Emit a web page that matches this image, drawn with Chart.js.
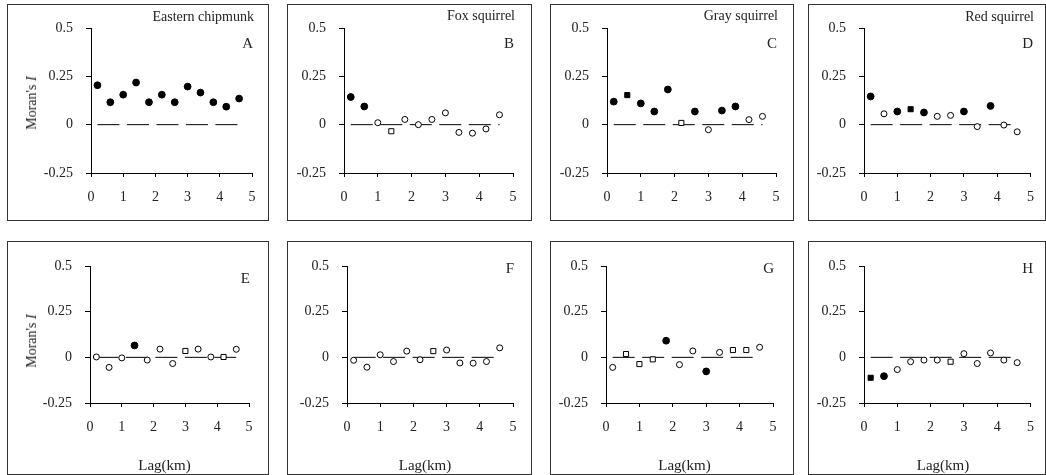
<!DOCTYPE html>
<html>
<head>
<meta charset="utf-8">
<script src="https://cdn.jsdelivr.net/npm/chart.js@4.4.0/dist/chart.umd.min.js"></script>
<style>
  body { margin:0; width:1046px; height:475px; background:#fff; position:relative; overflow:hidden;
         font-family:"Liberation Serif", "Times New Roman", serif; color:#222; }
  .box { position:absolute; border:1px solid #333; box-sizing:border-box; }
  canvas { position:absolute; }
  .lbl { position:absolute; font-size:14px; line-height:14px; white-space:nowrap; transform:translateY(-50%); }
  .mid { position:absolute; font-size:15px; line-height:15px; white-space:nowrap; transform:translate(-50%,-50%); }
  .rot { position:absolute; font-size:14px; line-height:14px; white-space:nowrap; transform:translate(-50%,-50%) rotate(-90deg); }
</style>
</head>
<body>
<script>
// lag distance classes (km)
const lags = [0.2, 0.6, 1.0, 1.4, 1.8, 2.2, 2.6, 3.0, 3.4, 3.8, 4.2, 4.6];
const xTicks = [0, 1, 2, 3, 4, 5];
const yTicks = [-0.25, 0, 0.25, 0.5];
const species = ["Eastern chipmunk", "Fox squirrel", "Gray squirrel", "Red squirrel"];

// Moran's I per lag; marks: F filled circle, O open circle, Q filled square, S open square
const moranA = [0.204, 0.116, 0.155, 0.218, 0.116, 0.155, 0.116, 0.197, 0.166, 0.116, 0.093, 0.135];
const markA  = ["F","F","F","F","F","F","F","F","F","F","F","F"];
const moranB = [0.143, 0.094, 0.010, -0.034, 0.027, 0.000, 0.027, 0.061, -0.040, -0.044, -0.022, 0.051];
const markB  = ["F","F","O","S","O","O","O","O","O","O","O","O"];
const moranC = [0.119, 0.153, 0.110, 0.068, 0.182, 0.009, 0.068, -0.026, 0.073, 0.094, 0.026, 0.043];
const markC  = ["F","Q","F","F","F","S","F","O","F","F","O","O"];
const moranD = [0.146, 0.056, 0.068, 0.080, 0.063, 0.043, 0.048, 0.068, -0.010, 0.097, -0.002, -0.037];
const markD  = ["F","O","F","Q","F","O","O","F","O","F","O","O"];
const moranE = [0.002, -0.055, -0.003, 0.065, -0.015, 0.045, -0.034, 0.035, 0.045, 0.002, 0.002, 0.044];
const markE  = ["O","O","O","F","O","O","O","S","O","O","S","O"];
const moranF = [-0.016, -0.054, 0.014, -0.023, 0.034, -0.013, 0.034, 0.040, -0.031, -0.032, -0.023, 0.052];
const markF  = ["O","O","O","O","O","O","S","O","O","O","O","O"];
const moranG = [-0.055, 0.018, -0.037, -0.011, 0.091, -0.040, 0.035, -0.077, 0.027, 0.040, 0.040, 0.055];
const markG  = ["O","S","S","S","F","O","O","F","O","S","S","O"];
const moranH = [-0.112, -0.103, -0.067, -0.024, -0.015, -0.015, -0.024, 0.020, -0.034, 0.024, -0.015, -0.029];
const markH  = ["Q","F","O","O","O","O","S","O","O","O","O","O"];

// layout: box = [left, top, w, h], plot = [left, top, right, bottom]
const panels = [
  { letter:"A", name:species[0], vals:moranA, marks:markA, box:[7,4,262,217],   plot:[91,28,252,173],  nameY:17, letY:43, yTitle:true },
  { letter:"B", name:species[1], vals:moranB, marks:markB, box:[287,4,245,217], plot:[344,28,513,173], nameY:16, letY:43 },
  { letter:"C", name:species[2], vals:moranC, marks:markC, box:[550,4,244,217], plot:[607,28,776,173], nameY:16, letY:43 },
  { letter:"D", name:species[3], vals:moranD, marks:markD, box:[808,4,238,217], plot:[864,28,1032,173], nameY:17, letY:43 },
  { letter:"E", vals:moranE, marks:markE, box:[7,241,262,234],   plot:[90,266,249,403],  letY:278, yTitle:true, xTitle:true },
  { letter:"F", vals:moranF, marks:markF, box:[287,241,245,234], plot:[347,266,513,403], letY:268, xTitle:true },
  { letter:"G", vals:moranG, marks:markG, box:[550,241,244,234], plot:[606,266,773,403], letY:268, xTitle:true },
  { letter:"H", vals:moranH, marks:markH, box:[808,241,238,234], plot:[864,266,1032,403], letY:268, xTitle:true }
];

function addDiv(cls, html, css) {
  var d = document.createElement("div");
  d.className = cls;
  d.innerHTML = html;
  Object.assign(d.style, css);
  document.body.appendChild(d);
}

var tickFont = { family: "Liberation Serif", size: 14 };

panels.forEach(function(p) {
  var bl = p.box[0], bt = p.box[1], bw = p.box[2], bh = p.box[3];
  addDiv("box", "", { left: bl + "px", top: bt + "px", width: bw + "px", height: bh + "px" });

  var cv = document.createElement("canvas");
  cv.width = bw; cv.height = bh;
  cv.style.left = bl + "px"; cv.style.top = bt + "px";
  document.body.appendChild(cv);

  var pts = lags.map(function(x, i) { return { x: x, y: p.vals[i] }; });
  var filled = p.marks.map(function(m) { return (m === "F" || m === "Q") ? "#000" : "#fff"; });
  var styles = p.marks.map(function(m) { return (m === "Q" || m === "S") ? "rect" : "circle"; });
  var radii = p.marks.map(function(m) { return (m === "Q" || m === "S") ? 3.6 : (m === "F" ? 3.4 : 3); });

  new Chart(cv.getContext("2d"), {
    type: "scatter",
    data: {
      datasets: [
        {
          data: pts,
          pointStyle: styles,
          pointRadius: radii,
          pointBackgroundColor: filled,
          pointBorderColor: "#000",
          pointBorderWidth: 1,
          showLine: false
        },
        {
          // expected value line
          data: [{ x: lags[0], y: 0 }, { x: lags[lags.length - 1], y: 0 }],
          showLine: true,
          borderColor: "#000",
          borderWidth: 1,
          borderDash: [22, 7.5],
          pointRadius: 0
        }
      ]
    },
    options: {
      responsive: false,
      animation: false,
      events: [],
      layout: { padding: { top: p.plot[1] - bt, right: bl + bw - p.plot[2], left: 0, bottom: 0 } },
      plugins: { legend: { display: false }, tooltip: { enabled: false } },
      scales: {
        x: {
          type: "linear", min: 0, max: 5,
          afterBuildTicks: function(s) { s.ticks = xTicks.map(function(v) { return { value: v }; }); },
          afterFit: function(s) { s.height = bt + bh - p.plot[3]; },
          ticks: { font: tickFont, color: "#222", padding: 12, maxRotation: 0,
                   callback: function(v) { return String(v); } },
          grid: { drawOnChartArea: false, tickLength: 4, color: "#000" },
          border: { color: "#000", width: 1 }
        },
        y: {
          type: "linear", min: -0.25, max: 0.5,
          afterBuildTicks: function(s) { s.ticks = yTicks.map(function(v) { return { value: v }; }); },
          afterFit: function(s) { s.width = p.plot[0] - bl; },
          ticks: { font: tickFont, color: "#222", padding: 13,
                   callback: function(v) { return String(v); } },
          grid: { drawOnChartArea: false, tickLength: 5, color: "#000" },
          border: { color: "#000", width: 1 }
        }
      }
    }
  });

  var rightPx = (1046 - (p.plot[2] + 2)) + "px";
  if (p.name) addDiv("lbl", p.name, { right: rightPx, top: p.nameY + "px" });
  addDiv("lbl", p.letter, { right: (1046 - (p.plot[2] + 1)) + "px", top: p.letY + "px", fontSize: "15px" });
  if (p.yTitle) addDiv("rot", "Moran's <i>I</i>", { left: (bl + 25) + "px", top: (p.plot[1] + 75) + "px" });
  if (p.xTitle) addDiv("mid", "Lag(km)", { left: ((p.plot[0] + p.plot[2]) / 2 - 5) + "px", top: (p.plot[3] + 62) + "px" });
});
</script>
</body>
</html>
